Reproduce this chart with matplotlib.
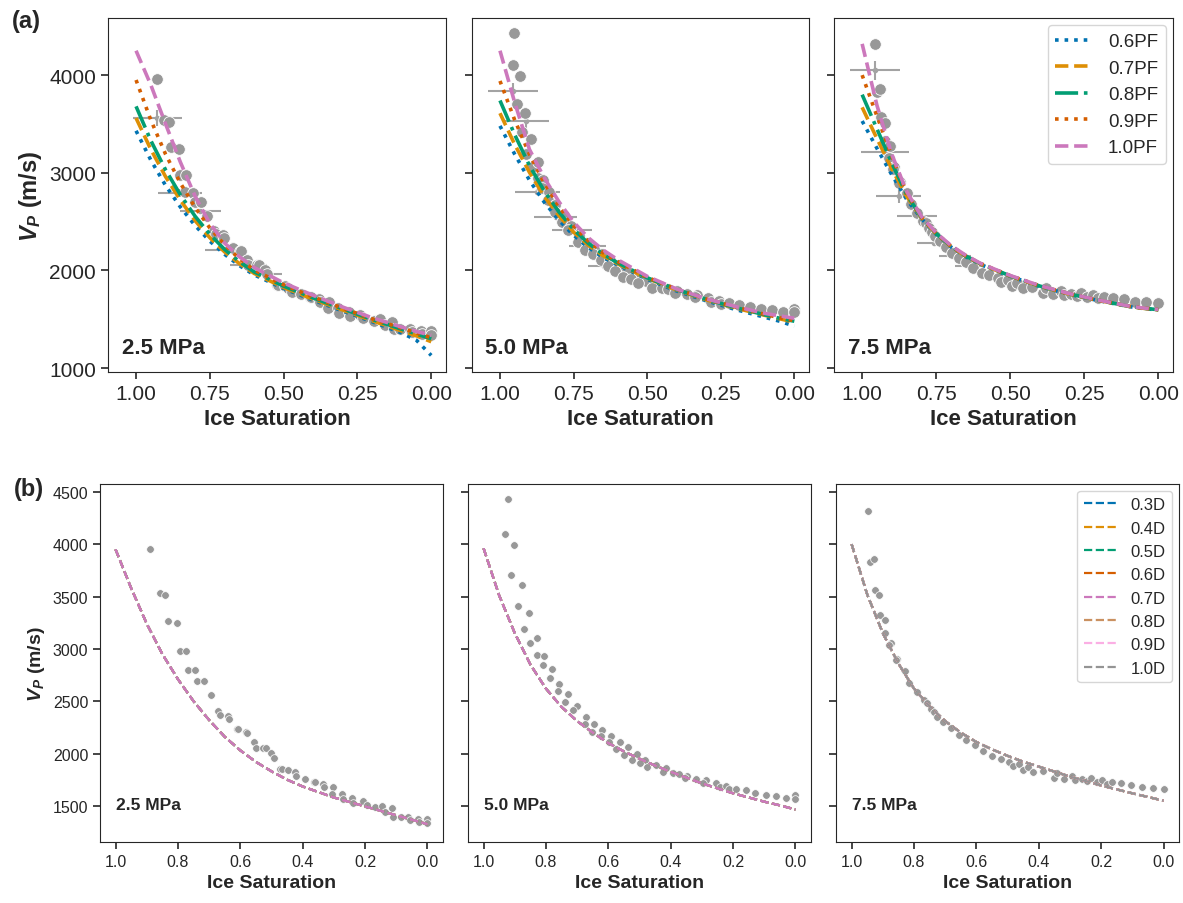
import numpy as np
import matplotlib.pyplot as plt
import seaborn as sns

sns.set_style('ticks')
plt.rcParams['font.family'] = ['Liberation Sans', 'DejaVu Sans']
plt.rcParams['mathtext.fontset'] = 'custom'
plt.rcParams['mathtext.it'] = 'Liberation Sans:italic:bold'
plt.rcParams['mathtext.rm'] = 'Liberation Sans:bold'

# measured data (b = bottom row saturation, a = top row saturation)
s25_b = [0.889, 0.859, 0.840, 0.832, 0.802, 0.794, 0.773, 0.768, 0.746, 0.739, 0.717, 0.694, 0.671, 0.666,
         0.639, 0.637, 0.612, 0.607, 0.582, 0.578, 0.557, 0.551, 0.527, 0.519, 0.503, 0.493, 0.473, 0.465,
         0.446, 0.425, 0.422, 0.393, 0.364, 0.361, 0.334, 0.332, 0.304, 0.305, 0.273, 0.272, 0.243, 0.238,
         0.208, 0.195, 0.168, 0.145, 0.136, 0.115, 0.109, 0.085, 0.061, 0.056, 0.029, 0.027, 0.0, 0.0]
s25_a = [0.928, 0.907, 0.888, 0.883, 0.855, 0.851, 0.831, 0.834, 0.808, 0.800, 0.780, 0.758, 0.736, 0.730,
         0.704, 0.702, 0.676, 0.672, 0.648, 0.645, 0.625, 0.620, 0.591, 0.585, 0.563, 0.557, 0.523, 0.518,
         0.495, 0.484, 0.472, 0.442, 0.412, 0.408, 0.380, 0.378, 0.348, 0.349, 0.315, 0.313, 0.280, 0.275,
         0.241, 0.230, 0.195, 0.173, 0.158, 0.134, 0.125, 0.105, 0.072, 0.065, 0.035, 0.032, 0.0, 0.0]
vp25 = [3957, 3536, 3517, 3268, 3246, 2981, 2975, 2799, 2796, 2697, 2697, 2560, 2404, 2368,
        2362, 2327, 2234, 2234, 2202, 2196, 2107, 2056, 2056, 2056, 2005, 1960, 1851, 1851,
        1845, 1820, 1781, 1756, 1730, 1724, 1708, 1676, 1676, 1612, 1612, 1564, 1571, 1532,
        1542, 1510, 1485, 1500, 1443, 1475, 1398, 1398, 1398, 1366, 1379, 1350, 1379, 1341]

s50_b = [0.922, 0.931, 0.901, 0.912, 0.877, 0.891, 0.855, 0.871, 0.850, 0.830, 0.830, 0.807, 0.810, 0.782,
         0.787, 0.759, 0.762, 0.730, 0.738, 0.702, 0.714, 0.673, 0.676, 0.646, 0.651, 0.619, 0.624, 0.592,
         0.597, 0.564, 0.575, 0.537, 0.551, 0.509, 0.525, 0.481, 0.498, 0.447, 0.476, 0.415, 0.425, 0.393,
         0.375, 0.348, 0.354, 0.318, 0.286, 0.295, 0.254, 0.242, 0.222, 0.213, 0.191, 0.160, 0.129, 0.094,
         0.062, 0.031, 0.0, 0.0]
s50_a = [0.951, 0.957, 0.932, 0.943, 0.914, 0.925, 0.896, 0.910, 0.892, 0.872, 0.872, 0.853, 0.856, 0.832,
         0.836, 0.812, 0.814, 0.784, 0.790, 0.759, 0.768, 0.732, 0.734, 0.706, 0.710, 0.680, 0.684, 0.653,
         0.657, 0.625, 0.634, 0.597, 0.609, 0.568, 0.582, 0.541, 0.556, 0.505, 0.531, 0.474, 0.483, 0.448,
         0.428, 0.400, 0.406, 0.366, 0.329, 0.337, 0.295, 0.284, 0.257, 0.248, 0.223, 0.187, 0.152, 0.112,
         0.075, 0.037, 0.0, 0.0]
vp50 = [4427, 4102, 3994, 3704, 3608, 3414, 3344, 3194, 3057, 3108, 2943, 2927, 2847, 2806,
        2726, 2669, 2602, 2567, 2494, 2455, 2414, 2350, 2286, 2280, 2207, 2223, 2165, 2169,
        2111, 2111, 2048, 2060, 1990, 1997, 1936, 1936, 1914, 1895, 1872, 1857, 1825, 1818,
        1809, 1786, 1767, 1761, 1745, 1723, 1720, 1681, 1691, 1659, 1665, 1650, 1627, 1602,
        1592, 1576, 1602, 1570]

s75_b = [0.947, 0.941, 0.928, 0.924, 0.911, 0.909, 0.892, 0.893, 0.874, 0.879, 0.853, 0.858, 0.830, 0.815,
         0.791, 0.768, 0.759, 0.747, 0.736, 0.725, 0.706, 0.682, 0.657, 0.633, 0.604, 0.578, 0.549, 0.522,
         0.495, 0.483, 0.462, 0.449, 0.433, 0.417, 0.385, 0.350, 0.342, 0.319, 0.293, 0.283, 0.262, 0.246,
         0.232, 0.214, 0.196, 0.182, 0.166, 0.136, 0.104, 0.070, 0.035, 0.0]
s75_a = [0.956, 0.951, 0.940, 0.936, 0.924, 0.923, 0.907, 0.908, 0.891, 0.895, 0.872, 0.876, 0.850, 0.836,
         0.814, 0.794, 0.786, 0.775, 0.765, 0.755, 0.738, 0.717, 0.695, 0.673, 0.648, 0.624, 0.596, 0.570,
         0.540, 0.530, 0.508, 0.493, 0.476, 0.458, 0.425, 0.389, 0.378, 0.354, 0.328, 0.317, 0.294, 0.276,
         0.261, 0.241, 0.220, 0.202, 0.184, 0.152, 0.117, 0.079, 0.040, 0.0]
vp75 = [4318, 3831, 3856, 3567, 3513, 3328, 3271, 3156, 3057, 3035, 2907, 2892, 2793, 2678,
        2589, 2509, 2484, 2430, 2398, 2350, 2302, 2245, 2181, 2127, 2086, 2022, 1974, 1952,
        1920, 1882, 1904, 1840, 1872, 1825, 1831, 1771, 1818, 1761, 1786, 1745, 1761, 1739,
        1767, 1729, 1751, 1713, 1729, 1720, 1704, 1681, 1675, 1665]

# error bars (top row)
eb25_s = [0.928, 0.851, 0.782, 0.698, 0.619, 0.555]
eb25_vp = [3560, 2792, 2604, 2205, 2051, 1959]
eb25_ds = [0.082, 0.076, 0.069, 0.068, 0.062, 0.048]
eb25_dv = [80, 40, 30, 30, 25, 20]

eb50_s = [0.957, 0.911, 0.873, 0.811, 0.756, 0.703, 0.647]
eb50_vp = [3842, 3534, 2808, 2544, 2414, 2250, 2044]
eb50_ds = [0.085, 0.078, 0.077, 0.072, 0.067, 0.062, 0.055]
eb50_dv = [77, 90, 30, 30, 25, 25, 20]

eb75_s = [0.956, 0.923, 0.877, 0.814, 0.758, 0.687, 0.640]
eb75_vp = [4048, 3209, 2767, 2558, 2277, 2147, 2047]
eb75_ds = [0.085, 0.081, 0.076, 0.067, 0.056, 0.054, 0.045]
eb75_dv = [95, 40, 75, 30, 30, 25, 20]

# model curves, top row (pore filling)
sat_grid = [1.0, 0.95, 0.9, 0.85, 0.8, 0.75, 0.7, 0.65, 0.6, 0.5, 0.4, 0.3, 0.2, 0.1, 0.05, 0.0]
pf_labels = ['0.6PF', '0.7PF', '0.8PF', '0.9PF', '1.0PF']
pf25 = [[3430, 3130, 2870, 2650, 2460, 2300, 2165, 2050, 1955, 1815, 1695, 1585, 1475, 1360, 1285, 1130],
        [3560, 3240, 2960, 2720, 2510, 2335, 2190, 2070, 1970, 1825, 1705, 1595, 1485, 1380, 1330, 1270],
        [3680, 3330, 3030, 2775, 2555, 2370, 2215, 2090, 1985, 1840, 1718, 1607, 1498, 1398, 1349, 1300],
        [3950, 3540, 3190, 2895, 2645, 2435, 2262, 2120, 2005, 1853, 1728, 1614, 1504, 1409, 1360, 1310],
        [4250, 3900, 3500, 3110, 2760, 2480, 2280, 2140, 2030, 1872, 1745, 1625, 1515, 1420, 1375, 1335]]
pf50 = [[3480, 3190, 2925, 2700, 2515, 2360, 2235, 2135, 2055, 1910, 1790, 1690, 1600, 1520, 1480, 1430],
        [3610, 3290, 3005, 2760, 2560, 2392, 2258, 2152, 2068, 1920, 1800, 1700, 1615, 1540, 1505, 1470],
        [3740, 3390, 3075, 2815, 2600, 2420, 2278, 2167, 2078, 1925, 1805, 1705, 1620, 1545, 1510, 1480],
        [3940, 3540, 3190, 2895, 2655, 2455, 2300, 2182, 2090, 1930, 1808, 1708, 1625, 1550, 1515, 1485],
        [4250, 3720, 3240, 2950, 2705, 2495, 2335, 2210, 2110, 1940, 1810, 1710, 1630, 1560, 1535, 1510]]
pf75 = [[3530, 3250, 2980, 2730, 2530, 2370, 2240, 2140, 2060, 1940, 1835, 1755, 1690, 1630, 1610, 1595],
        [3670, 3350, 3040, 2760, 2540, 2375, 2245, 2145, 2065, 1942, 1838, 1757, 1692, 1632, 1612, 1597],
        [3800, 3450, 3100, 2780, 2545, 2378, 2248, 2148, 2068, 1944, 1840, 1759, 1693, 1633, 1613, 1598],
        [4000, 3580, 3170, 2800, 2548, 2380, 2250, 2150, 2070, 1946, 1842, 1760, 1694, 1634, 1614, 1599],
        [4320, 3690, 3190, 2810, 2553, 2385, 2255, 2155, 2072, 1948, 1844, 1762, 1695, 1635, 1615, 1600]]

# model curves, bottom row (grain size)
sat_grid_b = [1.0, 0.95, 0.9, 0.85, 0.8, 0.75, 0.7, 0.65, 0.6, 0.55, 0.5, 0.45, 0.4, 0.3, 0.2, 0.1, 0.05, 0.0]
d_labels = ['0.3D', '0.4D', '0.5D', '0.6D', '0.7D', '0.8D', '0.9D', '1.0D']
d25 = [3950, 3580, 3240, 2950, 2710, 2500, 2320, 2160, 2030, 1920, 1830, 1750, 1685, 1580, 1495, 1410, 1368, 1325]
d50 = [3960, 3510, 3150, 2850, 2620, 2445, 2310, 2200, 2100, 2020, 1950, 1885, 1825, 1715, 1620, 1540, 1505, 1465]
d75 = [4000, 3520, 3150, 2860, 2620, 2450, 2310, 2200, 2110, 2040, 1978, 1922, 1875, 1780, 1695, 1620, 1585, 1550]

pressures = ['2.5 MPa', '5.0 MPa', '7.5 MPa']

# setting params
pal = sns.color_palette('colorblind')
dot_c = '#989898'
err_c = '#a3a3a3'
pf_styles = [':', '--', '-.', ':', '--']
pf_colors = [pal[0], pal[1], pal[2], pal[3], pal[4]]

fig = plt.figure(figsize=(11.83, 9.04), dpi=100)

# (a) row
top_pos = [[0.0913, 0.5874, 0.2857, 0.3916],
           [0.3990, 0.5874, 0.2849, 0.3916],
           [0.7050, 0.5874, 0.2866, 0.3916]]
top_s = [s25_a, s50_a, s75_a]
vp_all = [vp25, vp50, vp75]
pf_all = [pf25, pf50, pf75]
eb_all = [(eb25_s, eb25_vp, eb25_ds, eb25_dv), (eb50_s, eb50_vp, eb50_ds, eb50_dv),
          (eb75_s, eb75_vp, eb75_ds, eb75_dv)]

for i in range(3):
    ax = fig.add_axes(top_pos[i])
    es, ev, eds, edv = eb_all[i]
    ax.errorbar(es, ev, xerr=eds, yerr=edv, fmt='o', ms=3, color=err_c,
                ecolor=err_c, elinewidth=1.5, capsize=0, zorder=2)
    ax.scatter(top_s[i], vp_all[i], s=70, color=dot_c, edgecolor='white', linewidth=0.6, zorder=3)
    for j in range(5):
        ax.plot(sat_grid, pf_all[i][j], pf_styles[j], color=pf_colors[j], lw=2.6,
                label=pf_labels[j], zorder=4)
    ax.set_xlim(1.095, -0.05)
    ax.set_ylim(960, 4585)
    ax.set_xticks([1.0, 0.75, 0.5, 0.25, 0.0])
    ax.set_xticklabels(['1.00', '0.75', '0.50', '0.25', '0.00'])
    ax.set_yticks([1000, 2000, 3000, 4000])
    ax.tick_params(labelsize=15, length=5, width=1.2)
    if i > 0:
        ax.set_yticklabels([])
    else:
        ax.set_ylabel(r'$V_P$ (m/s)', fontsize=17, fontweight='bold')
    ax.set_xlabel('Ice Saturation', fontsize=16, fontweight='bold', labelpad=4)
    ax.text(0.04, 0.04, pressures[i], transform=ax.transAxes, fontsize=16,
            fontweight='bold', color='#262626', ha='left', va='bottom')
    if i == 2:
        ax.legend(loc='upper right', fontsize=13.5, handlelength=2.0, borderaxespad=0.4)

# (b) row
bot_pos = [[0.0845, 0.0675, 0.2900, 0.3960],
           [0.3956, 0.0675, 0.2900, 0.3960],
           [0.7067, 0.0675, 0.2900, 0.3960]]
bot_s = [s25_b, s50_b, s75_b]
d_all = [d25, d50, d75]
top_line = ['0.7D', '0.7D', '1.0D']

for i in range(3):
    ax = fig.add_axes(bot_pos[i])
    ax.scatter(bot_s[i], vp_all[i], s=30, color=dot_c, edgecolor='white', linewidth=0.5, zorder=3)
    for j in range(8):
        z = 5 if d_labels[j] == top_line[i] else 4
        ax.plot(sat_grid_b, d_all[i], '--', color=pal[j], lw=1.6, label=d_labels[j], zorder=z)
    ax.set_xlim(1.05, -0.05)
    ax.set_ylim(1155, 4575)
    ax.set_xticks([1.0, 0.8, 0.6, 0.4, 0.2, 0.0])
    ax.set_yticks([1500, 2000, 2500, 3000, 3500, 4000, 4500])
    ax.tick_params(labelsize=11.5, length=5, width=1.2)
    if i > 0:
        ax.set_yticklabels([])
    else:
        ax.set_ylabel(r'$V_P$ (m/s)', fontsize=14, fontweight='bold')
    ax.set_xlabel('Ice Saturation', fontsize=14, fontweight='bold', labelpad=4)
    ax.text(0.047, 0.084, pressures[i], transform=ax.transAxes, fontsize=12.5,
            fontweight='bold', color='#262626', ha='left', va='bottom')
    if i == 2:
        ax.legend(loc='upper right', fontsize=12, handlelength=2.0, borderaxespad=0.4)

fig.text(0.010, 0.976, '(a)', fontsize=17, fontweight='bold', va='center')
fig.text(0.012, 0.459, '(b)', fontsize=17, fontweight='bold', va='center')

fig.savefig('out.png', dpi=100)
